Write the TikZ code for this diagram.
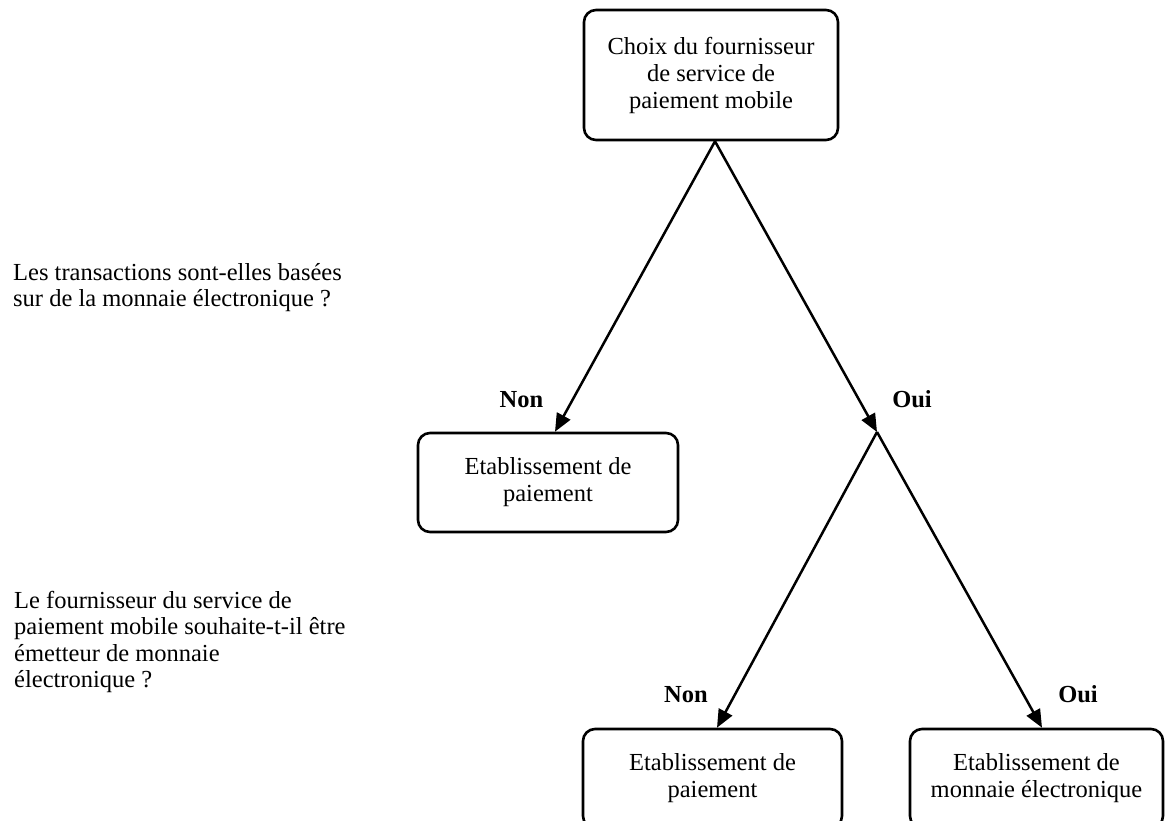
\documentclass[tikz,border=0pt]{standalone}
\usepackage{fontspec}
\setmainfont{Liberation Serif}
\usetikzlibrary{arrows.meta}
\begin{document}
\begin{tikzpicture}[x=1pt,y=-1pt,
  every node/.style={font=\fontsize{24.5}{27}\selectfont, inner sep=0pt},
  box/.style={draw, line width=2.6pt, rounded corners=12pt, align=center},
  arr/.style={line width=2.5pt, -{Triangle[length=18pt,width=15pt]}},
  lab/.style={font=\fontsize{24.5}{27}\selectfont\bfseries, anchor=base},
  note/.style={align=left, anchor=north west, font=\fontsize{24.5}{26.5}\selectfont}]
\path[use as bounding box] (0,0) rectangle (1166,820);
\clip (0,0) rectangle (1166,820);
\fill[white] (0,0) rectangle (1166,820);

\node[box, minimum width=254pt, minimum height=130pt] (top) at (711,75)
  {Choix du fournisseur\\de service de\\paiement mobile};
\node[box, minimum width=260pt, minimum height=99pt] (b2) at (548,482.5)
  {Etablissement de\\paiement};
\node[box, minimum width=259pt, minimum height=99pt] (b3) at (712.5,778.5)
  {Etablissement de\\paiement};
\node[box, minimum width=253pt, minimum height=99pt] (b4) at (1036.5,778.5)
  {Etablissement de\\monnaie électronique};

\coordinate (j) at (877,432);
\draw[arr] ([xshift=4pt]top.south) -- ([xshift=7pt]b2.north);
\draw[arr] ([xshift=4pt]top.south) -- (j);
\draw[arr] (j) -- ([xshift=4.5pt]b3.north);
\draw[arr] (j) -- ([xshift=5.5pt]b4.north);

\node[lab] (non1) at (521.5,407) {Non};
\node[lab] (oui1) at (912,407) {Oui};
\node[lab] (non2) at (686,702) {Non};
\node[lab] (oui2) at (1078,702) {Oui};

\node[note] (q1) at (13,263) {Les transactions sont-elles basées\\sur de la monnaie électronique ?};
\node[note] (q2) at (14,591) {Le fournisseur du service de\\paiement mobile souhaite-t-il être\\émetteur de monnaie\\électronique ?};
\end{tikzpicture}
\end{document}
